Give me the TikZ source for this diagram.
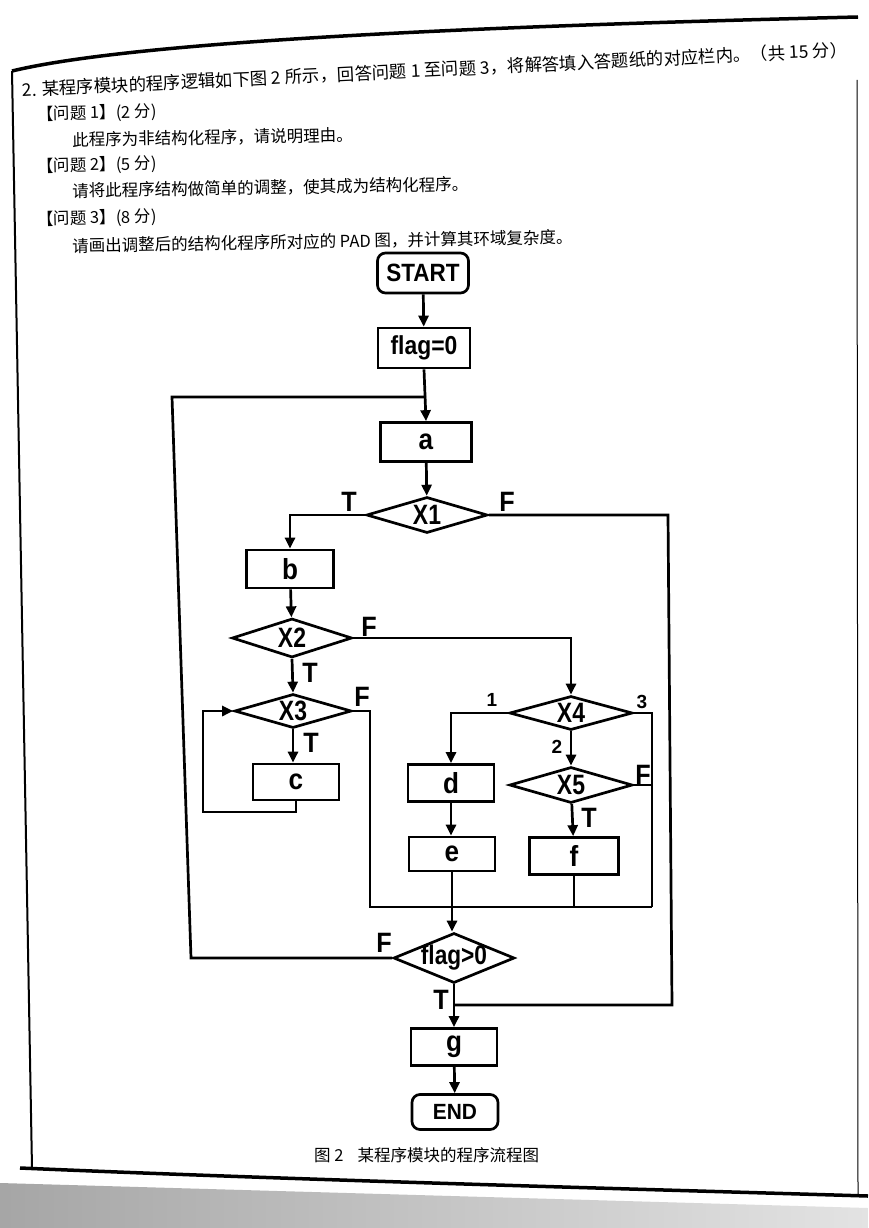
\documentclass[tikz,border=0pt]{standalone}
\usepackage{fontspec}
\usepackage{graphicx}
\newfontfamily\cjk{Noto Sans CJK SC}
\newfontfamily\fc{Liberation Sans}
\newcommand\nx[2][0.84]{\scalebox{#1}[1]{#2}}
\newcommand\dz[2][0.82]{\makebox[0pt]{\scalebox{#1}[1]{#2}}}
\usetikzlibrary{shapes.geometric,arrows.meta}
\begin{document}
\begin{tikzpicture}[x=1pt,y=-1pt,
  lw/.style={line width=2.7pt},
  box/.style={draw,lw,rectangle,inner sep=0pt,font=\fc\bfseries\fontsize{29}{29}\selectfont},
  proc/.style={box,minimum width=87pt,minimum height=37pt},
  term/.style={box,rounded corners=8pt},
  dec/.style={draw,lw,diamond,inner sep=0pt,aspect=3.3,font=\fc\bfseries\fontsize{28}{28}\selectfont},
  lab/.style={font=\fc\bfseries\fontsize{28}{28}\selectfont,inner sep=0pt},
  num/.style={font=\fc\bfseries\fontsize{19}{19}\selectfont,inner sep=0pt},
  con/.style={lw},
  arr/.style={lw,-{Triangle[length=11pt,width=10pt]}},
  hd/.style={anchor=west,inner sep=0pt,font=\cjk\fontsize{16.5}{16.5}\selectfont}
]
\useasboundingbox (0,0) rectangle (868,1228);
\fill[white] (0,0) rectangle (868,1228);
% page shading at bottom
\shade[left color=gray!70,right color=gray!22] (0,1183) -- (868,1208) -- (868,1228) -- (0,1228) -- cycle;
% frame
\draw[line width=3.5pt] (12,71) .. controls (120,45) and (400,28) .. (858,17);
\draw[line width=2pt] (12,71) -- (32,1168);
\draw[line width=3.5pt] (20,1168) .. controls (300,1180) and (600,1188) .. (868,1196);
\draw[line width=1pt] (857,80) -- (858,1196);

% header text
\node[hd,rotate=2.8,font=\cjk\fontsize{17.4}{17.4}\selectfont] (title) at (22,90) {2. 某程序模块的程序逻辑如下图 2 所示，回答问题 1 至问题 3，将解答填入答题纸的对应栏内。（共 15 分）};
\node[hd,rotate=1.5] (q1) at (37,115) {【问题 1】(2 分)};
\node[hd,rotate=1] (q1t) at (72,140) {此程序为非结构化程序，请说明理由。};
\node[hd,rotate=1.5] (q2) at (37,167) {【问题 2】(5 分)};
\node[hd,rotate=1] (q2t) at (72,191) {请将此程序结构做简单的调整，使其成为结构化程序。};
\node[hd,rotate=1.5] (q3) at (37,220) {【问题 3】(8 分)};
\node[hd,rotate=1] (q3t) at (72,246) {请画出调整后的结构化程序所对应的 PAD 图，并计算其环域复杂度。};

% nodes
\node[term,minimum width=91pt,minimum height=40pt,font=\fc\bfseries\fontsize{25}{25}\selectfont] (start) at (423,273) {\nx[0.9]{START}};
\node[proc,minimum width=92pt,minimum height=40pt,font=\fc\bfseries\fontsize{26}{26}\selectfont] (flag0) at (424,348) {\nx[0.88]{flag=0}};
\node[proc,minimum width=91pt,minimum height=39pt] (a) at (426,442) {\nx[0.9]{a}};
\node[dec,minimum width=121pt,minimum height=36pt] (x1) at (427,515) {\dz{X1}};
\node[proc,minimum height=38pt] (b) at (290,569) {\nx[0.9]{b}};
\node[dec,minimum width=120pt,minimum height=39pt] (x2) at (292,638) {\dz{X2}};
\node[dec,minimum width=117pt,minimum height=34pt] (x3) at (293,711) {\dz{X3}};
\node[proc,minimum width=86pt,minimum height=36pt] (c) at (296,782) {\nx[0.9]{c}};
\node[dec,minimum width=123pt,minimum height=34pt] (x4) at (571,713) {\dz{X4}};
\node[dec,minimum width=123pt,minimum height=36pt] (x5) at (571,785) {\dz{X5}};
\node[proc,minimum width=86pt,minimum height=37pt] (d) at (451,783) {\nx[0.9]{d}};
\node[proc,minimum width=86pt,minimum height=34pt] (e) at (452,854) {\nx[0.9]{e}};
\node[proc,minimum width=89pt,minimum height=37pt] (f) at (574,856) {\nx[0.9]{f}};
\node[dec,minimum width=121pt,minimum height=50pt,font=\fc\bfseries\fontsize{27}{27}\selectfont] (fg) at (454,958) {\dz[0.84]{flag>0}};
\node[proc,minimum width=86pt,minimum height=37pt] (g) at (454,1047) {\nx[0.9]{g}};
\node[term,minimum width=86pt,minimum height=35pt,font=\fc\bfseries\fontsize{22}{22}\selectfont] (end) at (455,1112) {\nx[0.95]{END}};

% junction coordinates
\coordinate (ltop) at (426,397);
\coordinate (lbot) at (191,958);
\coordinate (ltopl) at (172,397);
\coordinate (x1r) at (668,515);
\coordinate (x1rb) at (672,1005);
\coordinate (jg) at (454,1005);
\coordinate (cl) at (203,812);
\coordinate (x3r) at (370,711);
\coordinate (x3rb) at (370,907);
\coordinate (mr) at (652,907);
\coordinate (x4r) at (652,713);
\coordinate (x5r) at (652,785);
\coordinate (fb) at (574,907);

% connectors
\draw[arr] (start) -- (flag0);
\draw[arr] (flag0.south) -- (a.north);
\draw[con] (fg.west) -- (lbot) -- (ltopl) -- (ltop);
\draw[arr] (a) -- (x1);
\draw[arr] (x1.west) -| (b.north);
\draw[con] (x1.east) -- (x1r) -- (x1rb) -- (jg);
\draw[arr] (b) -- (x2);
\draw[arr] (x2.east) -| (x4.north);
\draw[arr] (x2.south) -- (x3.north);
\draw[arr] (x3.south) -- (x3.south |- c.north);
\draw[arr] (c.south) -- (c.south |- cl) -- (cl) -- (cl |- x3.west) -- (x3.west);
\draw[con] (x3.east) -- (x3r) -- (x3rb) -- (mr);
\draw[arr] (x4.west) -| (d.north);
\draw[arr] (x4) -- (x5);
\draw[con] (x4.east) -- (x4r) -- (mr);
\draw[con] (x5.east) -- (x5r);
\draw[arr] (x5) -- (f);
\draw[con] (f.south) -- (fb);
\draw[arr] (d.south) -- (d.south |- e.north);
\draw[arr] (e.south) -- (e.south |- fg.north);
\draw[arr] (fg.south) -- (fg.south |- g.north);
\draw[arr] (g) -- (end);

% branch labels
\node[lab] (t1) at (349,502) {\nx[0.9]{T}};
\node[lab] (f1) at (507,502) {\nx[0.9]{F}};
\node[lab] (f2) at (369,627) {\nx[0.9]{F}};
\node[lab] (t2) at (310,673) {\nx[0.9]{T}};
\node[lab] (f3) at (362,697) {\nx[0.9]{F}};
\node[lab] (t3) at (311,743) {\nx[0.9]{T}};
\node[num] (n1) at (492,700) {1};
\node[num] (n3) at (642,702) {3};
\node[num] (n2) at (557,747) {2};
\node[lab] (f5) at (643,775) {\nx[0.9]{F}};
\node[lab] (t5) at (589,818) {\nx[0.9]{T}};
\node[lab] (f6) at (384,943) {\nx[0.9]{F}};
\node[lab] (t6) at (441,1000) {\nx[0.9]{T}};

% caption
\node[anchor=west,inner sep=0pt,font=\cjk\fontsize{16.5}{16.5}\selectfont] (cap) at (314,1155) {图 2\hspace{14pt}某程序模块的程序流程图};
\end{tikzpicture}
\end{document}
